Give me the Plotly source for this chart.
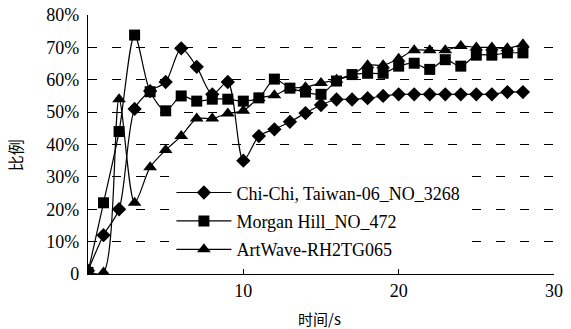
import plotly.graph_objects as go

time_s = list(range(0, 29))
chichi = [1, 12, 20, 51, 56.5, 59.3, 69.7, 64, 55.5, 59.3, 35, 42.6, 44.7, 47, 49.7, 52.2,
          53.9, 53.9, 54.3, 55, 55.5, 55.5, 55.5, 55.5, 55.5, 55.5, 55.5, 56.2, 56.2]
morgan = [0.5, 22, 44, 73.8, 56.3, 50.4, 55, 53.4, 54, 54, 53.4, 54.4, 60.2, 57.4, 56.2, 55.5,
          59.6, 61.6, 62, 62, 64.2, 65.1, 63.2, 66.2, 64.2, 67.6, 67.6, 68.3, 68.3]
artwave = [0.5, 0.5, 54, 22, 33, 38.3, 42.6, 48, 48, 49.6, 50.4, 54.3, 55.2, 57.4, 57.7, 59,
           60, 61.5, 64.5, 64.5, 66.5, 69.1, 69.1, 69.1, 70.4, 70, 70, 69.7, 71]
names = ["Chi-Chi, Taiwan-06_NO_3268", "Morgan Hill_NO_472", "ArtWave-RH2TG065"]
y_ticks = [0, 10, 20, 30, 40, 50, 60, 70, 80]
y_tick_labels = ["0", "10%", "20%", "30%", "40%", "50%", "60%", "70%", "80%"]
x_ticks = [10, 20, 30]

serif = "Liberation Serif, Times New Roman, serif"
cjk = "Noto Sans CJK SC"

fig = go.Figure()
series = [(chichi, "diamond", 11), (morgan, "square", 11), (artwave, "triangle-up", 12)]
for i, ((vals, sym, sz), nm) in enumerate(zip(series, names)):
    fig.add_trace(go.Scatter(
        x=time_s, y=vals, name=nm, mode="lines+markers", legendgroup="g%d" % i,
        line=dict(color="black", width=1.2, shape="spline", smoothing=0.8),
        marker=dict(symbol=sym, size=sz, color="black"),
    ))

fig.update_layout(
    width=571, height=329,
    margin=dict(l=88, r=17, t=15, b=55),
    paper_bgcolor="white", plot_bgcolor="white",
    font=dict(family=serif, size=18, color="black"),
    showlegend=True,
    legend=dict(x=0.179, y=0.385, xanchor="left", yanchor="top",
                bgcolor="white", itemwidth=55,
                font=dict(family=serif, size=18), tracegroupgap=2,
                traceorder="grouped"),
    annotations=[
        dict(text="时间/s", x=0.5, y=-0.17, xref="paper", yref="paper",
             xanchor="center", yanchor="middle", showarrow=False,
             font=dict(family=cjk, size=15, color="black"),
             xshift=-2),
        dict(text="比例", x=-0.158, y=0.46, xref="paper", yref="paper",
             xanchor="center", yanchor="middle", showarrow=False, textangle=-90,
             font=dict(family=cjk, size=16, color="black")),
    ],
)
fig.update_xaxes(
    range=[0, 30], tickvals=x_ticks, ticks="inside", ticklen=5, tickcolor="black",
    showline=True, linecolor="black", linewidth=1.2, showgrid=False, zeroline=False,
    automargin=False, tickfont=dict(family=serif, size=18),
)
fig.update_yaxes(
    range=[0, 80], tickvals=y_ticks, ticktext=y_tick_labels, ticks="",
    showline=True, linecolor="black", linewidth=1.2,
    showgrid=True, gridcolor="black", gridwidth=1, griddash="9px,15px", zeroline=False,
    automargin=False, ticklabelstandoff=4, tickfont=dict(family=serif, size=18),
)
fig.write_html("out.html", config={"displayModeBar": False},
               post_script="document.body.style.margin='0';document.body.style.overflow='hidden';")
